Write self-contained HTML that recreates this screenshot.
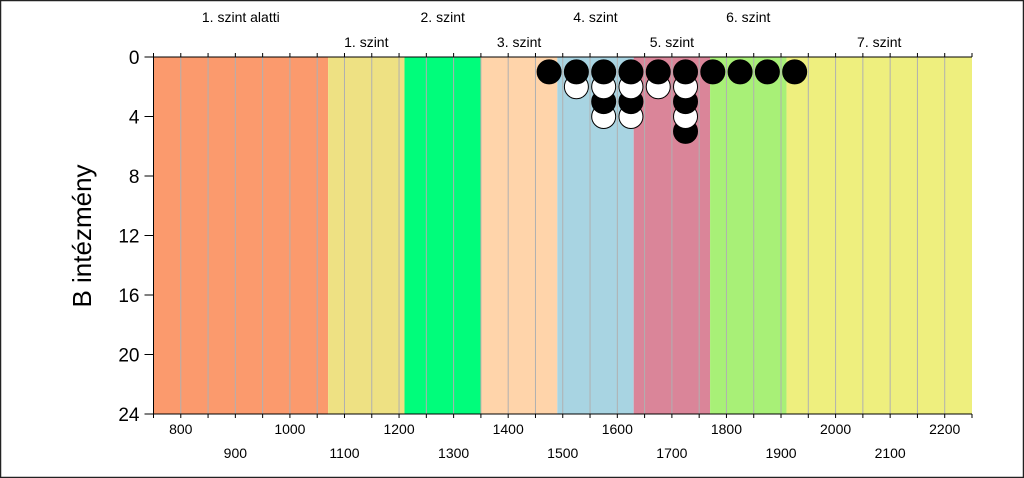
<!DOCTYPE html>
<html><head><meta charset="utf-8"><style>
html,body{margin:0;padding:0;background:#fff}
svg{display:block;font-family:"Liberation Sans",sans-serif}
</style></head><body>
<svg id="c" width="1024" height="478" viewBox="0 0 1024 478">
<rect x="0.5" y="0.5" width="1023" height="477" fill="#fff" stroke="#222" stroke-width="1.5"/>
<g id="bands"></g><g id="grid"></g><g id="dots"></g><g id="axes"></g>
<text transform="translate(91,236) rotate(-90)" text-anchor="middle" font-size="26">B intézmény</text>
</svg>
<script>
const bandEdges=[750,1070,1210,1350,1490,1630,1770,1910,2250];
const bandColors=["#FB9A6D","#EEE183","#00FD7B","#FFD4AA","#A8D4E2","#DA8599","#A8F077","#EEEF7E"];
const bandLabels=["1. szint alatti","1. szint","2. szint","3. szint","4. szint","5. szint","6. szint","7. szint"];
const dotX=[1475,1525,1575,1625,1675,1725,1775,1825,1875,1925];
const dotCounts=[1,2,4,4,2,5,1,1,1,1];
const xTicks=[800,900,1000,1100,1200,1300,1400,1500,1600,1700,1800,1900,2000,2100,2200];
const yTicks=[0,4,8,12,16,20,24];
const X0=153.5,X1=972,Y0=57,Y1=414,xmin=750,xmax=2250,ymax=24;
const sx=v=>X0+(v-xmin)/(xmax-xmin)*(X1-X0);
const sy=v=>Y0+v/ymax*(Y1-Y0);
const NS="http://www.w3.org/2000/svg";
function mk(p,t,a){const e=document.createElementNS(NS,t);for(const k in a)e.setAttribute(k,a[k]);document.getElementById(p).appendChild(e);return e;}
for(let i=0;i<bandColors.length;i++){
 const r=mk('bands','rect',{x:sx(bandEdges[i]),y:Y0,width:sx(bandEdges[i+1])-sx(bandEdges[i]),height:Y1-Y0,fill:bandColors[i]});
 
 
 const c=(bandEdges[i]+bandEdges[i+1])/2;
 const t=mk('axes','text',{x:sx(c),y:i%2==0?22:47,'text-anchor':'middle','font-size':14});
 t.textContent=bandLabels[i];
 
 
}
for(let v=800;v<2250;v+=50){
 const l=mk('grid','line',{x1:sx(v),x2:sx(v),y1:Y0,y2:Y1,stroke:'#b0b0b0','stroke-width':1});
 
 
}
for(let i=0;i<dotX.length;i++){
 for(let r=dotCounts[i];r>=1;r--){
  const c=mk('dots','circle',{cx:sx(dotX[i]),cy:sy(r),r:12,fill:r%2?'#000':'#fff',stroke:'#000','stroke-width':1});
  
  
 }
}
mk('axes','line',{x1:X0,x2:X1,y1:Y0,y2:Y0,stroke:'#000','stroke-width':1});
mk('axes','line',{x1:X0,x2:X1,y1:Y1,y2:Y1,stroke:'#000','stroke-width':1});
mk('axes','line',{x1:X0,x2:X0,y1:Y0,y2:Y1,stroke:'#000','stroke-width':1});
for(let v=750;v<=2250;v+=50){
 mk('axes','line',{x1:sx(v),x2:sx(v),y1:Y0-4,y2:Y0,stroke:'#000'});
 mk('axes','line',{x1:sx(v),x2:sx(v),y1:Y1,y2:Y1+4,stroke:'#000'});
}
xTicks.forEach((v,i)=>{
 const t=mk('axes','text',{x:sx(v),y:i%2==0?434:458,'text-anchor':'middle','font-size':14});
 t.textContent=v;
 
 
});
yTicks.forEach(v=>{
 mk('axes','line',{x1:X0-9,x2:X0,y1:sy(v),y2:sy(v),stroke:'#000'});
 const t=mk('axes','text',{x:X0-14,y:sy(v)+7,'text-anchor':'end','font-size':19});
 t.textContent=v;
 
 
});
</script>
</body></html>
